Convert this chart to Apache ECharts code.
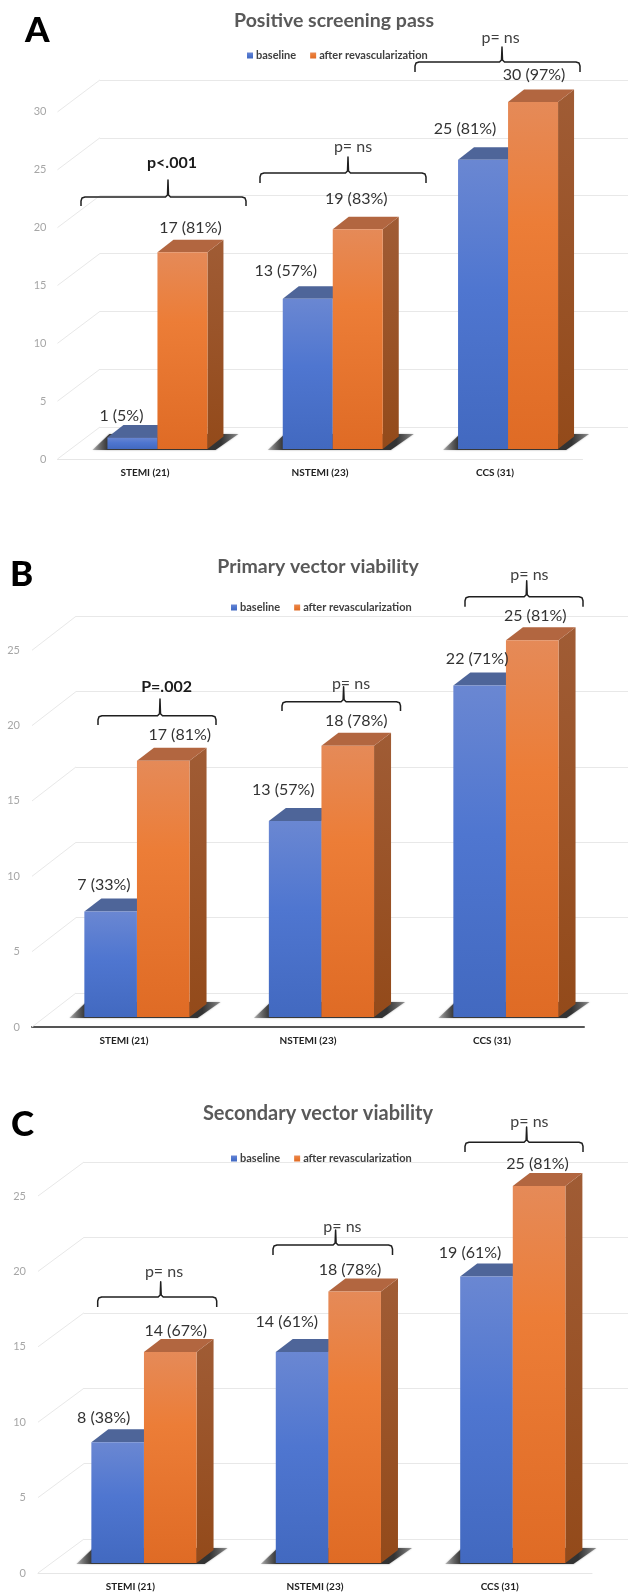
<!DOCTYPE html>
<html>
<head>
<meta charset="utf-8">
<title>Vector viability</title>
<style>
html,body{margin:0;padding:0;background:#fff;}
#main{width:628px;height:1594px;}
</style>
<script src="https://cdn.jsdelivr.net/npm/echarts@6/dist/echarts.min.js"></script>
</head>
<body>
<div id="main"></div>
<script>
var categories = ['STEMI (21)', 'NSTEMI (23)', 'CCS (31)'];
var seriesNames = ['baseline', 'after revascularization'];

// values
var baselineA = [1, 13, 25];
var afterA = [17, 19, 30];
var baselineB = [7, 13, 22];
var afterB = [17, 18, 25];
var baselineC = [8, 14, 19];
var afterC = [14, 18, 25];

var pctBaselineA = ['5%', '57%', '81%'];
var pctAfterA = ['81%', '83%', '97%'];
var pctBaselineB = ['33%', '57%', '71%'];
var pctAfterB = ['81%', '78%', '81%'];
var pctBaselineC = ['38%', '61%', '61%'];
var pctAfterC = ['67%', '78%', '81%'];

var ticksA = [0, 5, 10, 15, 20, 25, 30];
var ticksBC = [0, 5, 10, 15, 20, 25];

var fontName = 'Lato';

// page layout of each panel, all in pixels
var panels = [
  {
    letter: 'A', letterX: 25, letterY: 34,
    title: 'Positive screening pass', titleX: 329, titleY: 18, titleSize: 19.5,
    legendX: 247, legendY: 57,
    base: baselineA, after: afterA, pctBase: pctBaselineA, pctAfter: pctAfterA, ticks: ticksA,
    front: [57.5, 582.5, 111.9, 459], back: [100, 628, 80, 427], bars: [69.8, 595.7, 102, 449],
    barW: 50, dx: 16, dy: 12.5, axisColor: '#e6e6e6', axisWidth: 1, labelMargin: 11,
    offBase: [[-11, -22], [-22, -28], [-18, -31]],
    offAfter: [[8, -25], [-1.5, -30], [1, -27]],
    notes: [
      {text: 'p<.001', bold: true, x: 172, y: 163, x1: 81, x2: 246, yb: 197, yEnd: 206, sx: 168, sTop: 180},
      {text: 'p= ns', x: 353, y: 147, x1: 260, x2: 426, yb: 173, yEnd: 183, sx: 348, sTop: 157},
      {text: 'p= ns', x: 500.6, y: 38, x1: 415, x2: 580, yb: 62, yEnd: 72, sx: 502, sTop: 47}
    ]
  },
  {
    letter: 'B', letterX: 10, letterY: 578,
    title: 'Primary vector viability', titleX: 313, titleY: 564, titleSize: 19.5,
    legendX: 231, legendY: 609,
    base: baselineB, after: afterB, pctBase: pctBaselineB, pctAfter: pctAfterB, ticks: ticksBC,
    front: [32, 584, 650.25, 1027], back: [76, 628, 616.25, 993], bars: [44.7, 598.2, 640.25, 1017],
    barW: 52.6, dx: 17, dy: 13, axisColor: '#555555', axisWidth: 2, labelMargin: 12,
    offBase: [[-6.7, -26.5], [-11.8, -31.5], [-2.5, -26.5]],
    offAfter: [[16.5, -26], [8.5, -25], [3, -24]],
    notes: [
      {text: 'P=.002', bold: true, x: 166.6, y: 687, x1: 98, x2: 216, yb: 715.7, yEnd: 725, sx: 160, sTop: 699},
      {text: 'p= ns', x: 351, y: 684, x1: 282, x2: 400.5, yb: 701.7, yEnd: 711, sx: 343.6, sTop: 686.7},
      {text: 'p= ns', x: 529.4, y: 575, x1: 465, x2: 583, yb: 596.7, yEnd: 606.7, sx: 526.7, sTop: 580.7}
    ]
  },
  {
    letter: 'C', letterX: 11, letterY: 1128,
    title: 'Secondary vector viability', titleX: 313, titleY: 1111, titleSize: 20,
    legendX: 231, legendY: 1160,
    base: baselineC, after: afterC, pctBase: pctBaselineC, pctAfter: pctAfterC, ticks: ticksBC,
    front: [38, 592, 1196, 1573], back: [84, 628, 1162, 1539], bars: [51.75, 605, 1186, 1563],
    barW: 52.6, dx: 17, dy: 13, axisColor: '#e6e6e6', axisWidth: 1, labelMargin: 12,
    offBase: [[-14, -24.7], [-15.3, -30.3], [-16.4, -23.5]],
    offAfter: [[5.5, -21.3], [-4.7, -21.6], [-1.5, -22]],
    notes: [
      {text: 'p= ns', x: 164, y: 1271.7, x1: 97.7, x2: 216.7, yb: 1297, yEnd: 1307, sx: 160.7, sTop: 1281.7},
      {text: 'p= ns', x: 342.4, y: 1226.7, x1: 273, x2: 392.5, yb: 1245, yEnd: 1255, sx: 335.6, sTop: 1230},
      {text: 'p= ns', x: 529.4, y: 1122, x1: 465, x2: 583, yb: 1142.3, yEnd: 1152, sx: 526.6, sTop: 1127}
    ]
  }
];

function vGrad(stops) {
  return new echarts.graphic.LinearGradient(0, 0, 0, 1, stops.map(function (s) {
    return {offset: s[0], color: s[1]};
  }));
}

var faceBlue = [[0, '#6a87d2'], [0.45, '#4f76d0'], [1, '#4269c0']];
var faceOrange = [[0, '#e58a58'], [0.35, '#ec7d37'], [1, '#df6b25']];
var looks = [
  {face: faceBlue, top: '#4e6599', side: '#3c5a9c'},
  {face: faceOrange, top: '#b26640', side: [[0, '#a05c35'], [1, '#934a1a']]}
];

// the lid and right wall of one box, drawn behind the bar's front face
function boxRenderer(panel, sign, look) {
  return function (params, api) {
    var p = api.coord([api.value(0), api.value(1)]);
    var b = api.coord([api.value(0), 0]);
    var x0 = sign < 0 ? p[0] - panel.barW : p[0];
    var x1 = x0 + panel.barW;
    var sideFill = typeof look.side === 'string' ? look.side : vGrad(look.side);
    return {
      type: 'group',
      children: [
        {type: 'polygon', shape: {points: [[x1, p[1]], [x1 + panel.dx, p[1] - panel.dy], [x1 + panel.dx, b[1] - panel.dy], [x1, b[1]]]}, style: {fill: sideFill}},
        {type: 'polygon', shape: {points: [[x0, p[1]], [x1, p[1]], [x1 + panel.dx, p[1] - panel.dy], [x0 + panel.dx, p[1] - panel.dy]]}, style: {fill: look.top}}
      ]
    };
  };
}

// floor shadow under each pair of bars, fading at both tips
function shadowRenderer(panel) {
  return function (params, api) {
    var p = api.coord([api.value(0), 0]);
    var w = panel.barW, c = p[0], y = p[1];
    return {
      type: 'polygon',
      shape: {points: [[c - w - 15, y + 1], [c + w + 8, y + 1], [c + w + 31, y - 15], [c - w + 2, y - 15]]},
      style: {
        fill: new echarts.graphic.LinearGradient(0, 0, 1, 0, [
          {offset: 0, color: 'rgba(80,80,80,0.35)'},
          {offset: 0.1, color: '#3a3a3a'},
          {offset: 0.88, color: '#333333'},
          {offset: 1, color: 'rgba(80,80,80,0.55)'}
        ]),
        shadowBlur: 2, shadowColor: 'rgba(90,90,90,0.6)'
      }
    };
  };
}

// receding floor/wall lines from the front ticks to the back wall
function wallRenderer(panel) {
  return function (params, api) {
    var p = api.coord([0, api.value(0)]);
    var x = params.coordSys.x;
    return {
      type: 'line',
      shape: {x1: x, y1: p[1], x2: panel.back[0], y2: p[1] - (panel.front[3] - panel.back[3])},
      style: {stroke: '#e8e8e8', lineWidth: 1}
    };
  };
}

function barData(values, pcts, offs) {
  return values.map(function (v, i) {
    return {value: v, label: {offset: offs[i], formatter: v + ' (' + pcts[i] + ')'}};
  });
}

function pairs(values) {
  return values.map(function (v, i) { return [i, v]; });
}

var grids = [], xAxes = [], yAxes = [], series = [], titles = [], legends = [], graphics = [];

panels.forEach(function (panel) {
  var maxVal = panel.ticks[panel.ticks.length - 1];
  var base = grids.length;

  [panel.back, panel.front, panel.bars].forEach(function (r) {
    grids.push({left: r[0], width: r[1] - r[0], top: r[2], height: r[3] - r[2]});
  });

  // back wall
  xAxes.push({gridIndex: base, type: 'category', data: categories, show: false});
  yAxes.push({gridIndex: base, type: 'value', min: 0, max: maxVal, interval: 5,
    axisLine: {show: false}, axisTick: {show: false}, axisLabel: {show: false},
    splitLine: {show: true, lineStyle: {color: '#e8e8e8', width: 1}}});
  // front edge, carries the labels
  xAxes.push({gridIndex: base + 1, type: 'category', data: categories,
    axisLine: {show: true, lineStyle: {color: panel.axisColor, width: panel.axisWidth}},
    axisTick: {show: false},
    axisLabel: {margin: 9, color: '#222222', fontFamily: fontName, fontWeight: 'bold', fontSize: 10, interval: 0}});
  yAxes.push({gridIndex: base + 1, type: 'value', min: 0, max: maxVal, interval: 5,
    axisLine: {show: false}, axisTick: {show: false}, splitLine: {show: false},
    axisLabel: {margin: panel.labelMargin, color: '#a6a6a6', fontFamily: fontName, fontSize: 11}});
  // plane of the bars
  xAxes.push({gridIndex: base + 2, type: 'category', data: categories, show: false});
  yAxes.push({gridIndex: base + 2, type: 'value', min: 0, max: maxVal, show: false, splitLine: {show: false}});

  series.push({
    name: 'wall', type: 'custom', xAxisIndex: base + 1, yAxisIndex: base + 1, silent: true, z: 1,
    data: panel.ticks.map(function (t) { return [t]; }),
    encode: {y: 0},
    renderItem: wallRenderer(panel)
  });
  series.push({
    name: 'shadow', type: 'custom', xAxisIndex: base + 2, yAxisIndex: base + 2, silent: true, z: 2,
    data: categories.map(function (c, i) { return [i]; }),
    encode: {x: 0},
    renderItem: shadowRenderer(panel)
  });
  [panel.base, panel.after].forEach(function (values, k) {
    series.push({
      name: seriesNames[k] + ' box', type: 'custom', xAxisIndex: base + 2, yAxisIndex: base + 2, silent: true, z: 3,
      data: pairs(values),
      encode: {x: 0, y: 1},
      renderItem: boxRenderer(panel, k === 0 ? -1 : 1, looks[k])
    });
  });
  series.push({
    name: seriesNames[0], type: 'bar', xAxisIndex: base + 2, yAxisIndex: base + 2, z: 4,
    barWidth: panel.barW, barGap: '0%',
    itemStyle: {color: vGrad(looks[0].face)},
    label: {show: true, position: 'top', distance: 0, verticalAlign: 'middle', color: '#333333', fontFamily: fontName, fontSize: 16},
    data: barData(panel.base, panel.pctBase, panel.offBase)
  });
  series.push({
    name: seriesNames[1], type: 'bar', xAxisIndex: base + 2, yAxisIndex: base + 2, z: 4,
    barWidth: panel.barW, barGap: '0%',
    itemStyle: {color: vGrad(looks[1].face)},
    label: {show: true, position: 'top', distance: 0, verticalAlign: 'middle', color: '#333333', fontFamily: fontName, fontSize: 16},
    data: barData(panel.after, panel.pctAfter, panel.offAfter)
  });

  titles.push({
    text: panel.title, left: panel.titleX, top: panel.titleY - Math.round(panel.titleSize * 0.6), textAlign: 'center',
    textStyle: {color: '#595959', fontFamily: fontName, fontWeight: 'bold', fontSize: panel.titleSize}
  });
  legends.push({
    left: panel.legendX, top: panel.legendY - 7, itemWidth: 6, itemHeight: 6, itemGap: 14, padding: 0,
    icon: 'rect', selectedMode: false, data: seriesNames,
    textStyle: {color: '#404040', fontFamily: fontName, fontWeight: 'bold', fontSize: 11, padding: [0, 0, 0, -2]}
  });

  graphics.push({
    type: 'text', left: panel.letterX, top: panel.letterY - 21, z: 20,
    style: {text: panel.letter, fill: '#000000', font: '900 35px ' + fontName}
  });
  panel.notes.forEach(function (n) {
    var r = 4;
    graphics.push({
      type: 'polyline', z: 20, silent: true,
      shape: {points: [
        [n.x1, n.yEnd], [n.x1, n.yb + r], [n.x1 + 1, n.yb + 1], [n.x1 + r, n.yb],
        [n.sx - 2.5, n.yb], [n.sx - 0.5, n.yb - 2], [n.sx, n.sTop], [n.sx + 0.5, n.yb - 2], [n.sx + 2.5, n.yb],
        [n.x2 - r, n.yb], [n.x2 - 1, n.yb + 1], [n.x2, n.yb + r], [n.x2, n.yEnd]
      ]},
      style: {stroke: '#1f1f1f', lineWidth: 1.5, fill: null, lineJoin: 'round'}
    });
    graphics.push({
      type: 'text', x: n.x, y: n.y, z: 20,
      style: {text: n.text, fill: n.bold ? '#1a1a1a' : '#404040', textAlign: 'center', textVerticalAlign: 'middle',
        font: (n.bold ? 'bold ' : '') + '16px ' + fontName}
    });
  });
});

var myChart = echarts.init(document.getElementById('main'));
myChart.setOption({
  animation: false,
  backgroundColor: '#ffffff',
  title: titles,
  legend: legends,
  grid: grids,
  xAxis: xAxes,
  yAxis: yAxes,
  series: series,
  graphic: graphics
});
</script>
</body>
</html>
